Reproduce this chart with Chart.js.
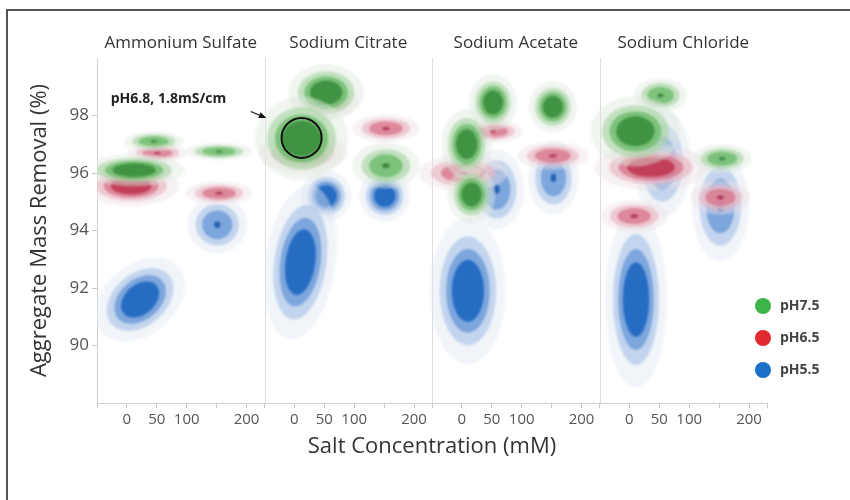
<!DOCTYPE html>
<html>
<head>
<meta charset="utf-8">
<title>Aggregate mass removal by salt</title>
<script src="https://cdn.jsdelivr.net/npm/chart.js@4.4.0/dist/chart.umd.min.js"></script>
<style>
  html, body { margin: 0; padding: 0; background: #fff; }
  #wrap { position: relative; width: 850px; height: 500px; overflow: hidden; }
  #frame { position: absolute; left: 6px; top: 9px; width: 900px; height: 600px;
           border-left: 2px solid #555; border-top: 2px solid #555; pointer-events: none; }
</style>
</head>
<body>
<div id="wrap">
  <canvas id="kde-chart" width="850" height="500"></canvas>
  <div id="frame"></div>
</div>
<script>
// panel layout on the shared x axis (mM)
const PANEL_SPAN = 280;
const PANEL_START = -50;

const salts = ["Ammonium Sulfate", "Sodium Citrate", "Sodium Acetate", "Sodium Chloride"];
const concTicks = [0, 50, 100, 150, 200];
const concLabels = ["0", "50", "100", "", "200"];
const removalTicks = [90, 92, 94, 96, 98];
const seriesNames = ["pH7.5", "pH6.5", "pH5.5"];

// pH 7.5
const ph75Salt    = [0, 0, 0, 1, 1, 1, 2, 2, 2, 2, 3, 3, 3];
const ph75Conc    = [45, 154, 12, 53, 12, 153, 52, 152, 8, 16, 52, 10, 155];
const ph75Removal = [97.1, 96.75, 96.1, 98.8, 97.2, 96.25, 98.45, 98.3, 97.0, 95.25, 98.7, 97.45, 96.5];
const ph75SdConc  = [25, 28, 36, 27, 33, 28, 17, 17, 18, 17, 22, 32, 25];
const ph75SdRem   = [0.17, 0.15, 0.24, 0.42, 0.62, 0.4, 0.42, 0.38, 0.52, 0.42, 0.3, 0.52, 0.25];
const ph75Tilt    = [0, 0, 0, 0, 0, 0, 0, 0, 0, 0, 0, 0, 0];
const ph75Peak    = [3, 3, 4, 4, 4, 3, 4, 4, 4, 4, 3, 4, 3];

// pH 6.5
const ph65Salt    = [0, 0, 0, 1, 1, 1, 2, 2, 2, 3, 3, 3];
const ph65Conc    = [51, 7, 154, 56, 14, 153, 52, 2, 152, 36, 152, 8];
const ph65Removal = [96.7, 95.55, 95.3, 98.5, 96.7, 97.55, 97.45, 96.0, 96.6, 96.2, 95.15, 94.5];
const ph65SdConc  = [25, 34, 28, 25, 37, 28, 25, 37, 30, 40, 25, 28];
const ph65SdRem   = [0.17, 0.3, 0.2, 0.28, 0.35, 0.24, 0.2, 0.32, 0.24, 0.34, 0.3, 0.28];
const ph65Tilt    = [0, 0, 0, 0, 0, 0, 0, 0, 0, 0, 0, 0];
const ph65Peak    = [3, 4, 3, 3, 3, 3, 3, 3, 3, 4, 3, 3];

// pH 5.5
const ph55Salt    = [0, 0, 1, 1, 1, 2, 2, 2, 3, 3, 3];
const ph55Conc    = [151, 22, 53, 151, 10, 58, 153, 10, 55, 152, 11];
const ph55Removal = [94.2, 91.6, 95.2, 95.2, 92.9, 95.43, 95.83, 91.9, 96.35, 94.85, 91.6];
const ph55SdConc  = [25, 36, 18, 18, 25, 23, 21, 27, 24, 24, 22];
const ph55SdRem   = [0.5, 0.52, 0.38, 0.38, 1.15, 0.7, 0.64, 1.08, 0.93, 0.95, 1.3];
const ph55Tilt    = [0, 40, 0, 0, -8, 0, 0, 0, 0, 0, 0];
const ph55Peak    = [3, 4, 4, 4, 4, 3, 3, 4, 3, 3, 4];

// callout: label in panel 0, circle in panel 1
const noteText = "pH6.8, 1.8mS/cm";
const notePos = { salt: 0, conc: -27, removal: 98.56 };
const arrowFrom = { salt: 0, conc: 207, removal: 98.14 };
const arrowTo = { salt: 1, conc: -47, removal: 97.91 };
const circlePos = { salt: 1, conc: 12, removal: 97.22 };

const palettes = [
  { legend: '#3cb44a', halo: '#dde8de', light: '#a9d6a5', mid: '#6dbb6b', core: '#3b8f3e', dot: '#2f7a33' },
  { legend: '#e02a30', halo: '#eee0e4', light: '#e9b6c1', mid: '#d9788d', core: '#c03a55', dot: '#a42744' },
  { legend: '#1a6fc8', halo: '#dfe6f1', light: '#aac4e8', mid: '#6c9ad8', core: '#1f68c1', dot: '#1656a8' }
];

const layersByPeak = {
  4: [['halo', 2.35, 0.45], ['light', 1.75, 0.65], ['mid', 1.35, 0.8], ['core', 1.0, 0.92]],
  3: [['halo', 2.0, 0.45], ['light', 1.45, 0.65], ['mid', 1.0, 0.8], ['dot', 0.22, 0.85]]
};

const globalX = (salt, conc) => salt * PANEL_SPAN + conc;

function makeSeries(i, salt, conc, removal, sdConc, sdRem, tilt, peak) {
  return {
    label: seriesNames[i],
    data: conc.map((c, j) => ({ x: globalX(salt[j], c), y: removal[j] })),
    sdConc: sdConc,
    sdRem: sdRem,
    tilt: tilt,
    peak: peak,
    palette: palettes[i],
    pointRadius: 0,
    showLine: false
  };
}

const datasets = [
  makeSeries(0, ph75Salt, ph75Conc, ph75Removal, ph75SdConc, ph75SdRem, ph75Tilt, ph75Peak),
  makeSeries(1, ph65Salt, ph65Conc, ph65Removal, ph65SdConc, ph65SdRem, ph65Tilt, ph65Peak),
  makeSeries(2, ph55Salt, ph55Conc, ph55Removal, ph55SdConc, ph55SdRem, ph55Tilt, ph55Peak)
];

const FONT = "'Open Sans', 'DejaVu Sans', sans-serif";

// density blobs, drawn blue first so green ends up on top
const blobPlugin = {
  id: 'blobs',
  beforeDatasetsDraw(chart) {
    const ctx = chart.ctx;
    const xs = chart.scales.x, ys = chart.scales.y;
    const area = chart.chartArea;
    ctx.save();
    ctx.beginPath();
    ctx.rect(area.left, area.top, area.right - area.left, area.bottom - area.top);
    ctx.clip();
    ctx.filter = 'blur(1.2px)';
    for (let d = chart.data.datasets.length - 1; d >= 0; d--) {
      const ds = chart.data.datasets[d];
      const meta = chart.getDatasetMeta(d);
      meta.data.forEach((pt, j) => {
        const raw = ds.data[j];
        const rx = Math.abs(xs.getPixelForValue(raw.x + ds.sdConc[j]) - pt.x);
        const ry = Math.abs(ys.getPixelForValue(raw.y + ds.sdRem[j]) - pt.y);
        const rot = -ds.tilt[j] * Math.PI / 180;
        layersByPeak[ds.peak[j]].forEach(([tone, k, alpha]) => {
          ctx.globalAlpha = alpha;
          ctx.fillStyle = ds.palette[tone];
          ctx.beginPath();
          ctx.ellipse(pt.x, pt.y, rx * k, ry * k, rot, 0, Math.PI * 2);
          ctx.fill();
        });
      });
    }
    ctx.restore();
  }
};

// salt titles and panel dividers
const panelPlugin = {
  id: 'panels',
  beforeDatasetsDraw(chart) {
    const ctx = chart.ctx;
    const xs = chart.scales.x;
    const area = chart.chartArea;
    ctx.save();
    ctx.strokeStyle = '#dcdcdc';
    ctx.lineWidth = 1;
    for (let k = 1; k < salts.length; k++) {
      const px = Math.round(xs.getPixelForValue(k * PANEL_SPAN + PANEL_START)) + 0.5;
      ctx.beginPath();
      ctx.moveTo(px, area.top);
      ctx.lineTo(px, area.bottom);
      ctx.stroke();
    }
    ctx.fillStyle = '#333';
    ctx.font = '17px ' + FONT;
    ctx.textAlign = 'center';
    ctx.textBaseline = 'middle';
    salts.forEach((s, k) => {
      const cx = xs.getPixelForValue(k * PANEL_SPAN + PANEL_START + PANEL_SPAN / 2);
      ctx.fillText(s, cx, area.top - 15);
    });
    ctx.restore();
  }
};

// callout and legend
const notePlugin = {
  id: 'notes',
  afterDatasetsDraw(chart) {
    const ctx = chart.ctx;
    const xs = chart.scales.x, ys = chart.scales.y;
    const px = p => [xs.getPixelForValue(globalX(p.salt, p.conc)), ys.getPixelForValue(p.removal)];
    ctx.save();
    const [cx, cy] = px(circlePos);
    ctx.strokeStyle = '#111';
    ctx.lineWidth = 2;
    ctx.beginPath();
    ctx.arc(cx, cy, 20, 0, Math.PI * 2);
    ctx.stroke();

    const [ax, ay] = px(arrowFrom);
    const [bx, by] = px(arrowTo);
    const ang = Math.atan2(by - ay, bx - ax);
    ctx.lineWidth = 1.2;
    ctx.beginPath();
    ctx.moveTo(ax, ay);
    ctx.lineTo(bx - 6 * Math.cos(ang), by - 6 * Math.sin(ang));
    ctx.stroke();
    ctx.fillStyle = '#111';
    ctx.beginPath();
    ctx.moveTo(bx, by);
    ctx.lineTo(bx - 8 * Math.cos(ang - 0.4), by - 8 * Math.sin(ang - 0.4));
    ctx.lineTo(bx - 8 * Math.cos(ang + 0.4), by - 8 * Math.sin(ang + 0.4));
    ctx.closePath();
    ctx.fill();

    const [tx, ty] = px(notePos);
    ctx.font = 'bold 14px ' + FONT;
    ctx.fillStyle = '#222';
    ctx.textAlign = 'left';
    ctx.textBaseline = 'middle';
    ctx.fillText(noteText, tx, ty);
    ctx.restore();
  },
  afterDraw(chart) {
    const ctx = chart.ctx;
    const area = chart.chartArea;
    ctx.save();
    ctx.font = 'bold 14px ' + FONT;
    ctx.textAlign = 'left';
    ctx.textBaseline = 'middle';
    chart.data.datasets.forEach((ds, i) => {
      const cy = area.top + 248 + i * 32;
      ctx.fillStyle = ds.palette.legend;
      ctx.beginPath();
      ctx.arc(area.right - 4, cy, 8, 0, Math.PI * 2);
      ctx.fill();
      ctx.fillStyle = '#444';
      ctx.fillText(ds.label, area.right + 13, cy);
    });
    ctx.restore();
  }
};

new Chart(document.getElementById('kde-chart'), {
  type: 'scatter',
  data: { datasets: datasets },
  options: {
    responsive: false,
    animation: false,
    events: [],
    layout: { padding: { left: 23, right: 83, top: 58, bottom: 36 } },
    plugins: {
      legend: { display: false },
      tooltip: { enabled: false }
    },
    scales: {
      x: {
        type: 'linear',
        min: PANEL_START,
        max: salts.length * PANEL_SPAN + PANEL_START,
        afterBuildTicks: scale => {
          const t = [];
          salts.forEach((s, k) => {
            t.push({ value: k * PANEL_SPAN + PANEL_START });
            concTicks.forEach(v => t.push({ value: k * PANEL_SPAN + v }));
          });
          t.push({ value: salts.length * PANEL_SPAN + PANEL_START });
          scale.ticks = t;
        },
        afterFit: scale => { scale.height = 61; },
        ticks: {
          autoSkip: false,
          maxRotation: 0,
          color: '#555',
          font: { size: 15, family: FONT },
          padding: 3,
          callback: value => {
            const local = ((value - PANEL_START) % PANEL_SPAN + PANEL_SPAN) % PANEL_SPAN + PANEL_START;
            const idx = concTicks.indexOf(Math.round(local));
            return idx >= 0 ? concLabels[idx] : '';
          }
        },
        grid: { drawOnChartArea: false, drawTicks: true, tickLength: 5, color: '#c8c8c8' },
        border: { color: '#d0d0d0' },
        title: {
          display: true,
          text: 'Salt Concentration (mM)',
          color: '#333',
          font: { size: 22, family: FONT }
        }
      },
      y: {
        min: 88,
        max: 100,
        afterBuildTicks: scale => { scale.ticks = removalTicks.map(v => ({ value: v })); },
        afterFit: scale => { scale.width = 74; },
        ticks: {
          color: '#555',
          font: { size: 17, family: FONT },
          padding: 3
        },
        grid: { drawOnChartArea: false, drawTicks: true, tickLength: 5, color: '#c8c8c8' },
        border: { color: '#d0d0d0' },
        title: {
          display: true,
          text: 'Aggregate Mass Removal (%)',
          color: '#333',
          font: { size: 22, family: FONT }
        }
      }
    }
  },
  plugins: [panelPlugin, blobPlugin, notePlugin]
});
</script>
</body>
</html>
